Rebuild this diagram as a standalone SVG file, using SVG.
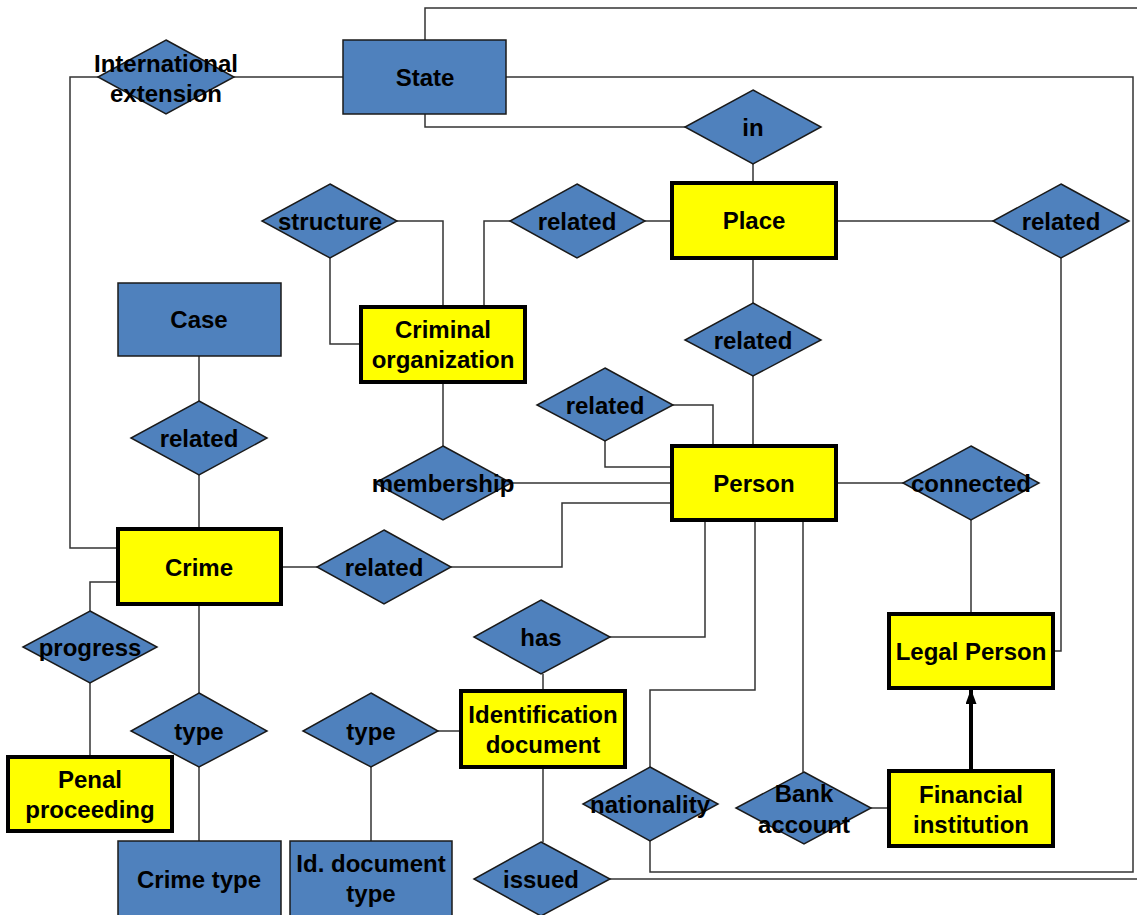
<svg xmlns="http://www.w3.org/2000/svg" width="1137" height="915" viewBox="0 0 1137 915">
<style>
.ent{fill:#4F81BD;stroke:#1a1a1a;stroke-width:1.5}
.weak{fill:#FFFF00;stroke:#000;stroke-width:4}
.rel{fill:#4F81BD;stroke:#1a1a1a;stroke-width:1.5}
.c{fill:none;stroke:#333;stroke-width:1.5}
text{font-family:"Liberation Sans",Arial,sans-serif;font-weight:bold;font-size:24px;fill:#000;text-anchor:middle}
</style>
<defs>
<marker id="ah" markerWidth="15" markerHeight="11" refX="14" refY="5.5" orient="auto" markerUnits="userSpaceOnUse" viewBox="0 0 15 11">
<path d="M0,0 L15,5.5 L0,11 Z" fill="#000"/>
</marker>
</defs>
<rect width="1137" height="915" fill="#fff"/>
<g id="connectors">
<path class="c" d="M425,40 V8 H1137"/>
<path class="c" d="M506,77 H1133 V872 H650 V841"/>
<path class="c" d="M685,127 H425 V114"/>
<path class="c" d="M753,164 V183"/>
<path class="c" d="M234,77 H343"/>
<path class="c" d="M98,77 H70 V548 H118"/>
<path class="c" d="M836,221 H993"/>
<path class="c" d="M1061,258 V651 H1053"/>
<path class="c" d="M645,221 H672"/>
<path class="c" d="M510,221 H484 V307"/>
<path class="c" d="M397,221 H443 V307"/>
<path class="c" d="M330,258 V344 H361"/>
<path class="c" d="M753,258 V303"/>
<path class="c" d="M753,376 V446"/>
<path class="c" d="M443,382 V446"/>
<path class="c" d="M511,483 H672"/>
<path class="c" d="M673,405 H713 V446"/>
<path class="c" d="M605,441 V467 H672"/>
<path class="c" d="M672,503 H562 V567 H451"/>
<path class="c" d="M281,567 H317"/>
<path class="c" d="M199,356 V401"/>
<path class="c" d="M199,475 V529"/>
<path class="c" d="M118,582 H90 V611"/>
<path class="c" d="M90,683 V757"/>
<path class="c" d="M199,604 V693"/>
<path class="c" d="M199,767 V841"/>
<path class="c" d="M438,731 H461"/>
<path class="c" d="M371,767 V841"/>
<path class="c" d="M543,674 V691"/>
<path class="c" d="M610,637 H705 V520"/>
<path class="c" d="M543,767 V842"/>
<path class="c" d="M610,879 H1137"/>
<path class="c" d="M755,520 V690 H650 V767"/>
<path class="c" d="M803,520 V772"/>
<path class="c" d="M871,808 H889"/>
<path class="c" d="M836,483 H903"/>
<path class="c" d="M971,520 V614"/>
<path d="M971,769 V690" fill="none" stroke="#000" stroke-width="4" marker-end="url(#ah)"/>
</g>
<g id="state"><rect class="ent" x="343" y="40" width="163" height="74"/><text x="425" y="86">State</text></g>
<g id="intl"><polygon class="rel" points="166,40 234,77 166,114 98,77"/><text x="166" y="72">International</text><text x="166" y="102">extension</text></g>
<g id="in"><polygon class="rel" points="753,90 821,127 753,164 685,127"/><text x="753" y="136">in</text></g>
<g id="place"><rect class="weak" x="672" y="183" width="164" height="75"/><text x="754" y="229">Place</text></g>
<g id="rel-place-lp"><polygon class="rel" points="1061,184 1129,221 1061,258 993,221"/><text x="1061" y="230">related</text></g>
<g id="rel-co-place"><polygon class="rel" points="577,184 645,221 577,258 510,221"/><text x="577" y="230">related</text></g>
<g id="structure"><polygon class="rel" points="330,184 397,221 330,258 262,221"/><text x="330" y="230">structure</text></g>
<g id="crimorg"><rect class="weak" x="361" y="307" width="164" height="75"/><text x="443" y="338">Criminal</text><text x="443" y="368">organization</text></g>
<g id="rel-place-person"><polygon class="rel" points="753,303 821,340 753,376 685,340"/><text x="753" y="349">related</text></g>
<g id="case"><rect class="ent" x="118" y="283" width="163" height="73"/><text x="199" y="328">Case</text></g>
<g id="rel-case-crime"><polygon class="rel" points="199,401 267,438 199,475 131,438"/><text x="199" y="447">related</text></g>
<g id="rel-person-person"><polygon class="rel" points="605,368 673,405 605,441 537,405"/><text x="605" y="414">related</text></g>
<g id="membership"><polygon class="rel" points="443,446 511,483 443,520 375,483"/><text x="443" y="492">membership</text></g>
<g id="person"><rect class="weak" x="672" y="446" width="164" height="74"/><text x="754" y="492">Person</text></g>
<g id="connected"><polygon class="rel" points="971,446 1039,483 971,520 903,483"/><text x="971" y="492">connected</text></g>
<g id="crime"><rect class="weak" x="118" y="529" width="163" height="75"/><text x="199" y="576">Crime</text></g>
<g id="rel-crime-person"><polygon class="rel" points="384,530 451,567 384,604 317,567"/><text x="384" y="576">related</text></g>
<g id="progress"><polygon class="rel" points="90,611 157,647 90,683 23,647"/><text x="90" y="656">progress</text></g>
<g id="penal"><rect class="weak" x="8" y="757" width="164" height="74"/><text x="90" y="788">Penal</text><text x="90" y="818">proceeding</text></g>
<g id="type-crime"><polygon class="rel" points="199,693 267,731 199,767 131,731"/><text x="199" y="740">type</text></g>
<g id="crimetype"><rect class="ent" x="118" y="841" width="163" height="80"/><text x="199" y="888">Crime type</text></g>
<g id="type-doc"><polygon class="rel" points="371,693 438,731 371,767 303,731"/><text x="371" y="740">type</text></g>
<g id="iddoctype"><rect class="ent" x="290" y="841" width="162" height="80"/><text x="371" y="872">Id. document</text><text x="371" y="902">type</text></g>
<g id="has"><polygon class="rel" points="541,600 610,637 541,674 474,637"/><text x="541" y="646">has</text></g>
<g id="iddoc"><rect class="weak" x="461" y="691" width="164" height="76"/><text x="543" y="723">Identification</text><text x="543" y="753">document</text></g>
<g id="issued"><polygon class="rel" points="541,842 610,879 541,916 474,879"/><text x="541" y="888">issued</text></g>
<g id="nationality"><polygon class="rel" points="650,767 718,804 650,841 583,804"/><text x="650" y="813">nationality</text></g>
<g id="bank"><polygon class="rel" points="804,772 871,808 804,844 736,808"/><text x="804" y="802">Bank</text><text x="804" y="833">account</text></g>
<g id="legal"><rect class="weak" x="889" y="614" width="164" height="74"/><text x="971" y="660">Legal Person</text></g>
<g id="financial"><rect class="weak" x="889" y="771" width="164" height="75"/><text x="971" y="803">Financial</text><text x="971" y="833">institution</text></g>
</svg>
